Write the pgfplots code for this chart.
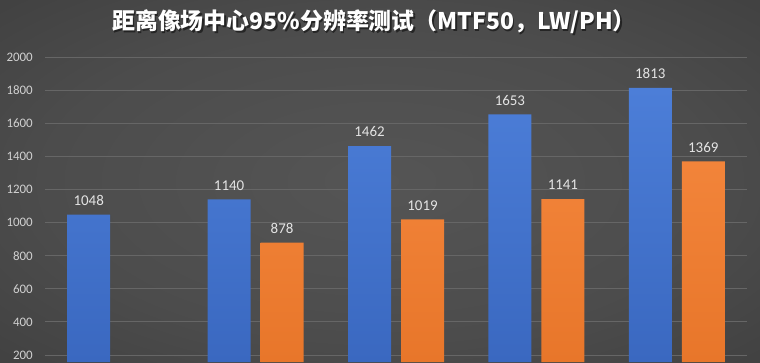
\documentclass[border=0pt]{standalone}
\usepackage{pgfplots}
\pgfplotsset{compat=1.18}
\usepackage{fontspec}
\setmainfont{Carlito}
\newfontfamily\cjk{Noto Sans CJK SC}
\definecolor{bgA}{HTML}{555555}
\definecolor{bgB}{HTML}{4C4C4C}
\definecolor{bgC}{HTML}{363636}
\definecolor{bgD}{HTML}{272727}
\definecolor{gridc}{HTML}{666666}
\definecolor{blueT}{HTML}{4C7ED8}
\definecolor{blueB}{HTML}{3A68C0}
\definecolor{orT}{HTML}{F2843A}
\definecolor{orB}{HTML}{E8762A}
\definecolor{lbl}{HTML}{E4E4E4}
\definecolor{tkl}{HTML}{D0D0D0}
\pgfdeclareradialshading{vign}{\pgfpoint{0bp}{0bp}}{color(0bp)=(bgA); color(22bp)=(bgB); color(50bp)=(bgC); color(71bp)=(bgD)}
\begin{document}
\begin{tikzpicture}[x=1bp,y=1bp]
\shade[shading=vign] (0,0) rectangle (760,362);
\node[font=\cjk\bfseries\fontsize{23}{27}\selectfont, text=black, opacity=0.5] at (375.5,338.5) {距离像场中心95\%分辨率测试（MTF50，LW/PH）};
\node[font=\cjk\bfseries\fontsize{23}{27}\selectfont, text=white] at (374,340) {距离像场中心95\%分辨率测试（MTF50，LW/PH）};
\begin{axis}[at={(45bp,0bp)}, anchor=south west, scale only axis,
  width=702bp, height=362bp,
  xmin=-0.5, xmax=4.5, ymin=157.7, ymax=2344,
  axis line style={draw=none},
  major tick length=0pt,
  xtick=\empty,
  ytick={200,400,...,2000},
  ymajorgrids,
  grid style={color=gridc, line width=0.8bp},
  /pgf/number format/assume math mode=true,
  /pgf/number format/1000 sep={},
  yticklabel style={font=\fontsize{13}{15}\selectfont, text=tkl, anchor=east, inner sep=0pt, xshift=-12bp},
  nodes near coords,
  every node near coord/.append style={font=\fontsize{15}{17}\selectfont, text=lbl, anchor=south, inner sep=0pt, yshift=9bp, /pgf/number format/assume math mode=true},
  clip=false,
]
\addplot[ybar, bar width=43bp, bar shift=-26.5bp, draw=none, top color=blueT, bottom color=blueB,
  every node near coord/.append style={xshift=-26.5bp}]
  coordinates {(0,1048) (1,1140) (2,1462) (3,1653) (4,1813)};
\addplot[ybar, bar width=43bp, bar shift=26.5bp, draw=none, top color=orT, bottom color=orB,
  every node near coord/.append style={xshift=26.5bp}]
  coordinates {(1,878) (2,1019) (3,1141) (4,1369)};
\end{axis}
\end{tikzpicture}
\end{document}
